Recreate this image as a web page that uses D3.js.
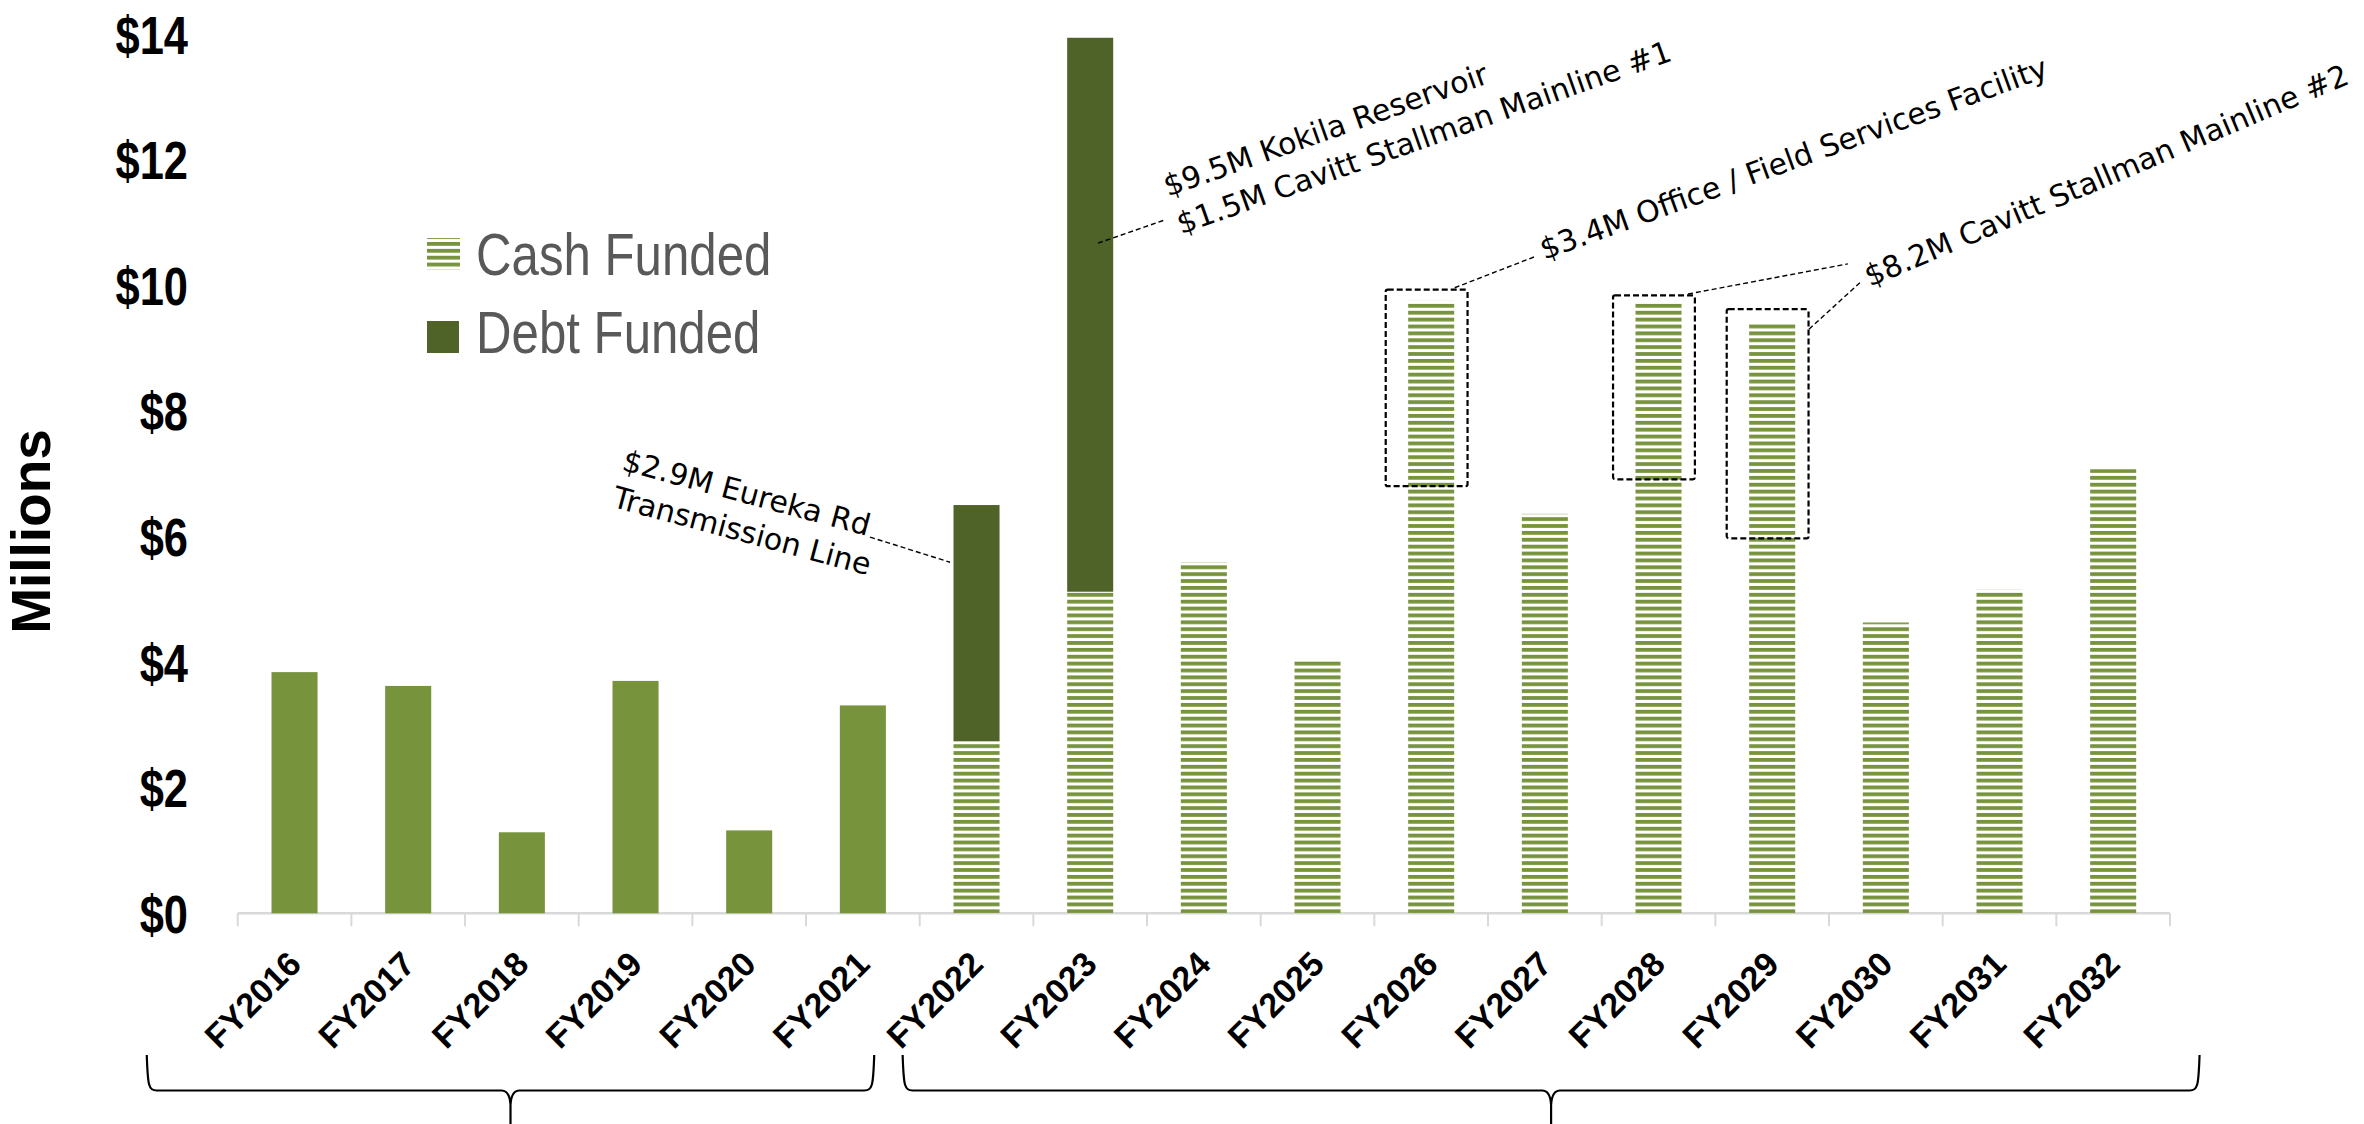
<!DOCTYPE html>
<html><head><meta charset="utf-8">
<script src="https://cdn.jsdelivr.net/npm/d3@7"></script>
<style>
html,body{margin:0;padding:0;background:#fff;}
svg{display:block;}
</style></head>
<body>
<svg id="chart" width="2364" height="1124"></svg>
<script>
// ---------------- DATA ----------------
const categories = ["FY2016","FY2017","FY2018","FY2019","FY2020","FY2021","FY2022","FY2023","FY2024","FY2025","FY2026","FY2027","FY2028","FY2029","FY2030","FY2031","FY2032"];
const cashFunded = [3.84, 3.62, 1.29, 3.70, 1.32, 3.31, 2.74, 5.12, 5.59, 4.05, 9.75, 6.36, 9.73, 9.41, 4.63, 5.15, 7.07];
const debtFunded = [0, 0, 0, 0, 0, 0, 3.76, 8.82, 0, 0, 0, 0, 0, 0, 0, 0, 0];
const firstProjected = "FY2022";           // from here on cash is shown hatched
const yTicks = [0, 2, 4, 6, 8, 10, 12, 14];
const yTickLabels = ["$0","$2","$4","$6","$8","$10","$12","$14"];
const legendLabels = ["Cash Funded", "Debt Funded"];
const yTitle = "Millions";
const annotationTexts = [
  ["$2.9M Eureka Rd", "Transmission Line"],
  ["$9.5M Kokila Reservoir", "$1.5M Cavitt Stallman Mainline #1"],
  ["$3.4M Office / Field Services Facility"],
  ["$8.2M Cavitt Stallman Mainline #2"]
];
const highlightCats = ["FY2026", "FY2028", "FY2029"];
const highlightRanges = [[6.80, 9.93], [6.91, 9.84], [5.97, 9.62]];
const braceGroups = [["FY2016", "FY2021"], ["FY2022", "FY2032"]];

// ---------------- STYLE ----------------
const CASH = "#77933C", DEBT = "#4F6228", AXIS = "#d9d9d9";
const svg = d3.select("#chart");

function hasFont(name) {
  const c = document.createElement("canvas").getContext("2d");
  const s = "abcdefghijklmnopqrstuvwxyz$0123456789";
  c.font = "40px monospace"; const w1 = c.measureText(s).width;
  c.font = `40px '${name}', monospace`; const w2 = c.measureText(s).width;
  return Math.abs(w1 - w2) > 0.5;
}
const narrowOK = hasFont("Liberation Sans Narrow");
const NARROW = narrowOK ? "'Liberation Sans Narrow', 'Arial Narrow', sans-serif" : "'Liberation Sans', Arial, sans-serif";
const narrowScale = narrowOK ? "" : "scale(0.82,1)";

const x = d3.scaleBand().domain(categories).range([237.7, 2170]).paddingInner(0.595).paddingOuter(0.2975);
const y = d3.scaleLinear().domain([0, 14]).range([913.3, 34]);
const X0 = x.range()[0], step = x.step();
const U = u => X0 + u * step;                  // position in band units
const bandStart = c => x(c) - (step - x.bandwidth()) / 2;

// pattern
const defs = svg.append("defs");
const pat = defs.append("pattern").attr("id", "hstripe").attr("patternUnits", "userSpaceOnUse")
  .attr("width", 20).attr("height", 6.88).attr("y", 1.2);
pat.append("rect").attr("width", 20).attr("height", 3.8).attr("fill", CASH);

const projIdx = categories.indexOf(firstProjected);
const rows = categories.map((c, i) => ({c, i, cash: cashFunded[i], debt: debtFunded[i]}));

// axis line + ticks
const axisG = svg.append("g");
axisG.append("line").attr("x1", x.range()[0]).attr("x2", x.range()[1])
  .attr("y1", y(0)).attr("y2", y(0)).attr("stroke", AXIS).attr("stroke-width", 2.5);
const bounds = categories.map(bandStart).concat([x.range()[1]]);
axisG.selectAll("line.tk").data(bounds).join("line").attr("class", "tk")
  .attr("x1", d => d).attr("x2", d => d).attr("y1", y(0)).attr("y2", y(0) + 13)
  .attr("stroke", AXIS).attr("stroke-width", 2);

// bars
svg.append("g").selectAll("rect.cash").data(rows).join("rect").attr("class", "cash")
  .attr("x", d => x(d.c)).attr("width", x.bandwidth())
  .attr("y", d => y(d.cash)).attr("height", d => y(0) - y(d.cash))
  .attr("fill", d => d.i >= projIdx ? "url(#hstripe)" : CASH);
svg.append("g").selectAll("rect.debt").data(rows.filter(d => d.debt > 0)).join("rect").attr("class", "debt")
  .attr("x", d => x(d.c)).attr("width", x.bandwidth())
  .attr("y", d => y(d.cash + d.debt)).attr("height", d => y(d.cash) - y(d.cash + d.debt))
  .attr("fill", DEBT);

// y axis labels
const yAxis = d3.axisLeft(y).tickValues(yTicks).tickFormat((d, i) => yTickLabels[i]).tickSize(0).tickPadding(0);
const yg = svg.append("g").attr("transform", "translate(188,0)").call(yAxis);
yg.select(".domain").remove();
yg.selectAll("text").attr("font-family", NARROW).attr("font-weight", "bold").attr("font-size", 53)
  .attr("fill", "#000").attr("dy", "0.36em").attr("transform", narrowScale);

// y title
svg.append("text").attr("transform", `translate(50,531.5) rotate(-90)`).attr("text-anchor", "middle")
  .attr("font-family", "'Liberation Sans', Arial, sans-serif").attr("font-weight", "bold").attr("font-size", 55)
  .text(yTitle);

// x labels
svg.append("g").selectAll("text").data(categories).join("text")
  .attr("transform", d => `translate(${x(d) + x.bandwidth() / 2 + 8.7},966) rotate(-45)`)
  .attr("text-anchor", "end").attr("font-family", "'Liberation Sans', Arial, sans-serif")
  .attr("font-weight", "bold").attr("font-size", 34).text(d => d);

// legend
const lg = svg.append("g");
lg.append("rect").attr("x", 427).attr("y", 238).attr("width", 33).attr("height", 31.5).attr("fill", "url(#hstripe)");
lg.append("rect").attr("x", 427).attr("y", 321).attr("width", 32).attr("height", 32).attr("fill", DEBT);
legendLabels.forEach((t, i) => {
  lg.append("text").attr("transform", `translate(476,${i ? 353 : 275}) ${narrowScale}`)
    .attr("font-family", NARROW).attr("font-size", 60).attr("fill", "#595959").text(t);
});

// braces
const braceLayout = [[-0.80, -0.40], [-0.15, 0.26]];
braceGroups.forEach((g, i) => {
  const a = bandStart(g[0]) + braceLayout[i][0] * step;
  const b = bandStart(g[1]) + step + braceLayout[i][1] * step;
  const m = (a + b) / 2, yT = 1055, yM = 1090.5, yB = 1135;
  const p = `M${a},${yT} C${a + 1},${yM - 4} ${a + 2},${yM} ${a + 10},${yM} L${m - 9},${yM} Q${m - 1},${yM} ${m},${yM + 14} L${m},${yB}` +
            ` M${m},${yM + 14} Q${m + 1},${yM} ${m + 9},${yM} L${b - 10},${yM} C${b - 2},${yM} ${b - 1},${yM - 4} ${b},${yT}`;
  svg.append("path").attr("d", p).attr("fill", "none").attr("stroke", "#000").attr("stroke-width", 2.2);
});

// highlight boxes
highlightCats.forEach((c, i) => {
  const cx = x(c) + x.bandwidth() / 2 - 0.04 * step, hw = 0.36 * step;
  svg.append("rect").attr("x", cx - hw).attr("width", 2 * hw)
    .attr("y", y(highlightRanges[i][1])).attr("height", y(highlightRanges[i][0]) - y(highlightRanges[i][1]))
    .attr("rx", 2).attr("fill", "none").attr("stroke", "#000").attr("stroke-width", 2.2).attr("stroke-dasharray", "6,3");
});

// annotations (positions in band units / values)
const annLayout = [
  {u: 3.37, v: 7.06, rot: 15, lh: 38, leaders: [[5.563, 5.99, 6.267, 5.59]]},
  {u: 8.184, v: 11.41, rot: -19.5, lh: 40, leaders: [[7.569, 10.67, 8.158, 11.04]]},
  {u: 11.496, v: 10.40, rot: -20, lh: 40, leaders: [[10.707, 9.96, 11.405, 10.45]]},
  {u: 14.361, v: 9.97, rot: -23, lh: 40, leaders: [[12.76, 9.86, 14.166, 10.34], [13.824, 9.30, 14.272, 10.04]]}
];
annotationTexts.forEach((lines, i) => {
  const L = annLayout[i];
  const t = svg.append("text").attr("transform", `translate(${U(L.u)},${y(L.v)}) rotate(${L.rot})`)
    .attr("font-family", "'DejaVu Sans', sans-serif").attr("font-size", 30).attr("fill", "#000");
  lines.forEach((ln, j) => t.append("tspan").attr("x", 0).attr("dy", j ? L.lh : 0).text(ln));
  L.leaders.forEach(s => {
    svg.append("line").attr("x1", U(s[0])).attr("y1", y(s[1])).attr("x2", U(s[2])).attr("y2", y(s[3]))
      .attr("stroke", "#000").attr("stroke-width", 1.4).attr("stroke-dasharray", "5,3");
  });
});
</script>
</body></html>
